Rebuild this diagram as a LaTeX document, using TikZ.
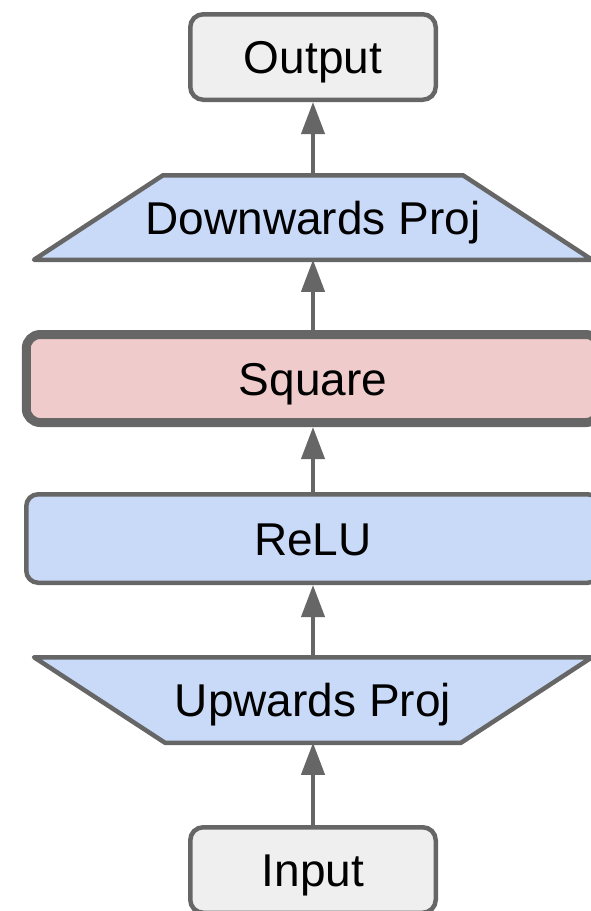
\documentclass[tikz,border=0pt]{standalone}
\usepackage{fontspec}
\setmainfont{Liberation Sans}
\usepackage{xcolor}
\usepackage{tikz}
\usetikzlibrary{arrows.meta,positioning,backgrounds}

\definecolor{edgegray}{HTML}{666666}
\definecolor{iogray}{HTML}{EFEFEF}
\definecolor{layerblue}{HTML}{C9DAF8}
\definecolor{squarepink}{HTML}{F0CBCB}

\begin{document}
\begin{tikzpicture}[
  x=1pt, y=1pt,
  base/.style={draw=edgegray, line width=4.5pt, align=center, text=black,
    font=\fontsize{46}{55}\selectfont, text height=33pt, text depth=0pt,
    inner sep=0pt},
  io/.style={base, rounded corners=13pt, fill=iogray,
    minimum width=245.5pt, minimum height=85.5pt},
  layer/.style={base, rounded corners=12pt, fill=layerblue,
    minimum width=573.5pt, minimum height=88.5pt},
  sq/.style={layer, fill=squarepink, line width=9pt, rounded corners=14pt,
    minimum height=88pt},
  proj/.style={base, draw=none, outer sep=0pt, minimum width=558pt},
  trap/.style={draw=edgegray, fill=layerblue, line width=4.5pt,
    line join=round},
  flow/.style={-{Triangle[length=32pt,width=23pt]}, draw=edgegray,
    line width=4pt}]

  \useasboundingbox (0,0) rectangle (591,-911);
  \clip (0,0) rectangle (591,-911);

  \node[io] (inp) at (313,-870) {Input};
  \node[proj, minimum height=85.5pt, above=82.25pt of inp] (up) {Upwards Proj};
  \node[layer, above=72.25pt of up] (relu) {ReLU};
  \node[sq, above=65pt of relu] (square) {Square};
  \node[proj, minimum height=84.5pt, above=70.25pt of square] (down) {Downwards Proj};
  \node[io, above=73.25pt of down] (out) {Output};

  % trapezoid outlines behind the projection labels
  \begin{scope}[on background layer]
    \draw[trap] (up.north west) -- (up.north east)
      -- ([xshift=-131pt]up.south east) -- ([xshift=131pt]up.south west) -- cycle;
    \draw[trap] (down.south west) -- (down.south east)
      -- ([xshift=-129pt]down.north east) -- ([xshift=129pt]down.north west) -- cycle;
  \end{scope}

  \draw[flow] (inp) -- (up);
  \draw[flow] (up) -- (relu);
  \draw[flow] (relu) -- (square);
  \draw[flow] (square) -- (down);
  \draw[flow] (down) -- (out);
\end{tikzpicture}
\end{document}
